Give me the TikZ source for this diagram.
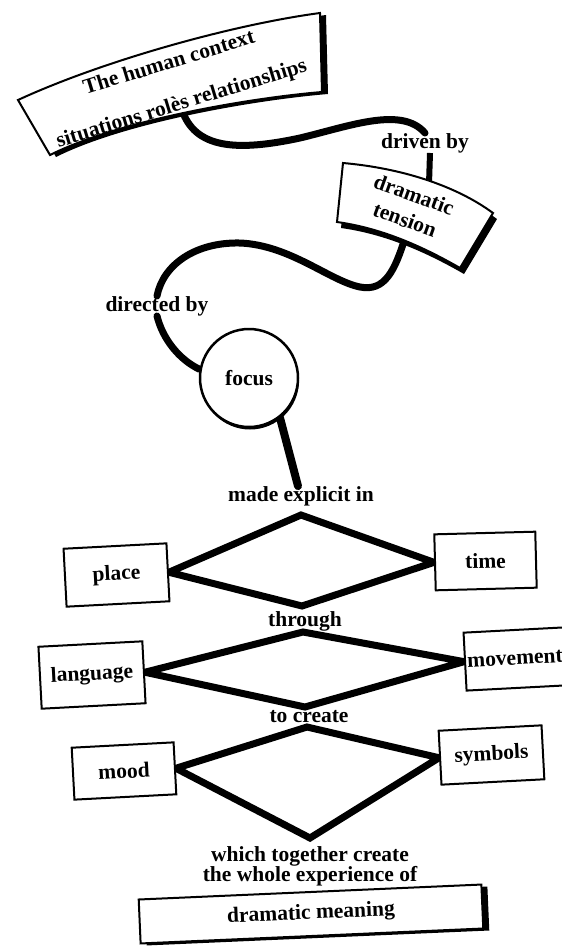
\documentclass[tikz,border=0pt]{standalone}
\usepackage{fontspec}
\setmainfont{Liberation Serif}
\usetikzlibrary{shadows,backgrounds}
\newcommand\dfont{\fontsize{21.5}{20}\selectfont\bfseries}
\begin{document}
\begin{tikzpicture}[x=1pt,y=-1pt,
  conn/.style={line width=7pt,line cap=round},
  boxn/.style={draw,line width=2pt,fill=white,inner sep=0pt,font=\dfont},
  lab/.style={font=\dfont,inner sep=0pt},
  dia/.style={line width=7pt,line join=miter},
  blackshadow/.style={drop shadow={shadow xshift=#1,shadow yshift=-2pt,fill=black,opacity=1}},
]
\useasboundingbox (0,0) rectangle (562,946);
\clip (0,0) rectangle (562,946);

% named coordinates on the banners
\coordinate (b1) at (182,110);
\coordinate (b2top) at (429,184);
\coordinate (b2bot) at (405,238);

% label nodes
\node[lab] (driven) at (425,143) {driven by};
\node[lab] (directed) at (157,306) {directed by};
\node[circle,draw,line width=2.5pt,fill=white,minimum size=98pt,inner sep=0pt,font=\dfont,
  drop shadow={shadow xshift=1pt,shadow yshift=-2.5pt,fill=black,opacity=1}] (focus) at (249,378) {focus};
\node[lab] (made) at (301,496) {made explicit in};
\node[lab] (through) at (305,621) {through};
\node[lab] (tocreate) at (309,717) {to create};
\node[lab,align=center] (which) at (310,866) {which together create\\the whole experience of};

% boxes
\node[boxn,rotate=3,minimum width=103pt,minimum height=58pt] (place) at (116.5,575) {place};
\node[boxn,rotate=1.5,minimum width=101pt,minimum height=56pt] (time) at (485.5,561) {time};
\node[boxn,rotate=3,minimum width=104pt,minimum height=62pt] (language) at (92,675) {language};
\node[boxn,rotate=3,minimum width=100pt,minimum height=58pt] (movement) at (515,659) {movement};
\node[boxn,rotate=3,minimum width=102pt,minimum height=52pt] (mood) at (124,771) {mood};
\node[boxn,rotate=3,minimum width=103pt,minimum height=54pt] (symbols) at (491.5,755) {symbols};
\node[boxn,rotate=2.5,minimum width=343pt,minimum height=44pt,blackshadow=6pt] (meaning) at (311,914) {dramatic meaning};

% diamond tips
\coordinate (d1t) at (301,515);
\coordinate (d1b) at (302,606);
\coordinate (d2t) at (303,632);
\coordinate (d2b) at (305,707);
\coordinate (d3t) at (307,727);
\coordinate (d3b) at (310,838);

% top banner
\fill[shift={(6,2)}] (18,100) .. controls (100,62) and (230,25) .. (320,13) -- (322,92) .. controls (250,98) and (120,120) .. (50,155) -- cycle;
\draw[line width=2pt,fill=white] (18,100) .. controls (100,62) and (230,25) .. (320,13) -- (322,92) .. controls (250,98) and (120,120) .. (50,155) -- cycle;
\node[inner sep=0pt,align=center,rotate=17,font=\fontsize{21.5}{42.6}\selectfont\bfseries] (human) at (175.5,84) {The human context\\situations rolès relationships};

% dramatic tension banner
\fill[shift={(4,6)}] (343,163) .. controls (400,168) and (455,185) .. (493,213) -- (460,268) .. controls (420,245) and (380,228) .. (337,222) -- cycle;
\draw[line width=2pt,fill=white] (343,163) .. controls (400,168) and (455,185) .. (493,213) -- (460,268) .. controls (420,245) and (380,228) .. (337,222) -- cycle;
\node[inner sep=0pt,align=center,rotate=-20,font=\fontsize{21.5}{26.8}\selectfont\bfseries] (tension) at (409.5,207) {dramatic\\tension};

\begin{scope}[on background layer]
  \fill[white] (0,0) rectangle (562,946);
  \draw[conn] (b1) .. controls (195,148) and (235,152) .. (300,138) .. controls (350,126) and (402,106) .. (driven.north);
  \draw[line width=6pt] ([xshift=5pt]driven.south) -- (b2top);
  \draw[conn] (b2bot) .. controls (395,270) and (385,292) .. (360,287) .. controls (330,281) and (290,245) .. (240,243) .. controls (195,242) and (163,265) .. (directed.north);
  \draw[conn] (directed.south) .. controls (163,340) and (180,360) .. (focus.170);
  \draw[line width=8pt,line cap=round] (focus.-52) -- ([xshift=-3pt]made.north);
  \draw[dia] (place.east) -- (d1t) -- (time.west) -- (d1b) -- cycle;
  \draw[dia] (language.east) -- (d2t) -- (movement.west) -- (d2b) -- cycle;
  \draw[dia] (mood.east) -- (d3t) -- (symbols.west) -- (d3b) -- cycle;
\end{scope}
\end{tikzpicture}
\end{document}
